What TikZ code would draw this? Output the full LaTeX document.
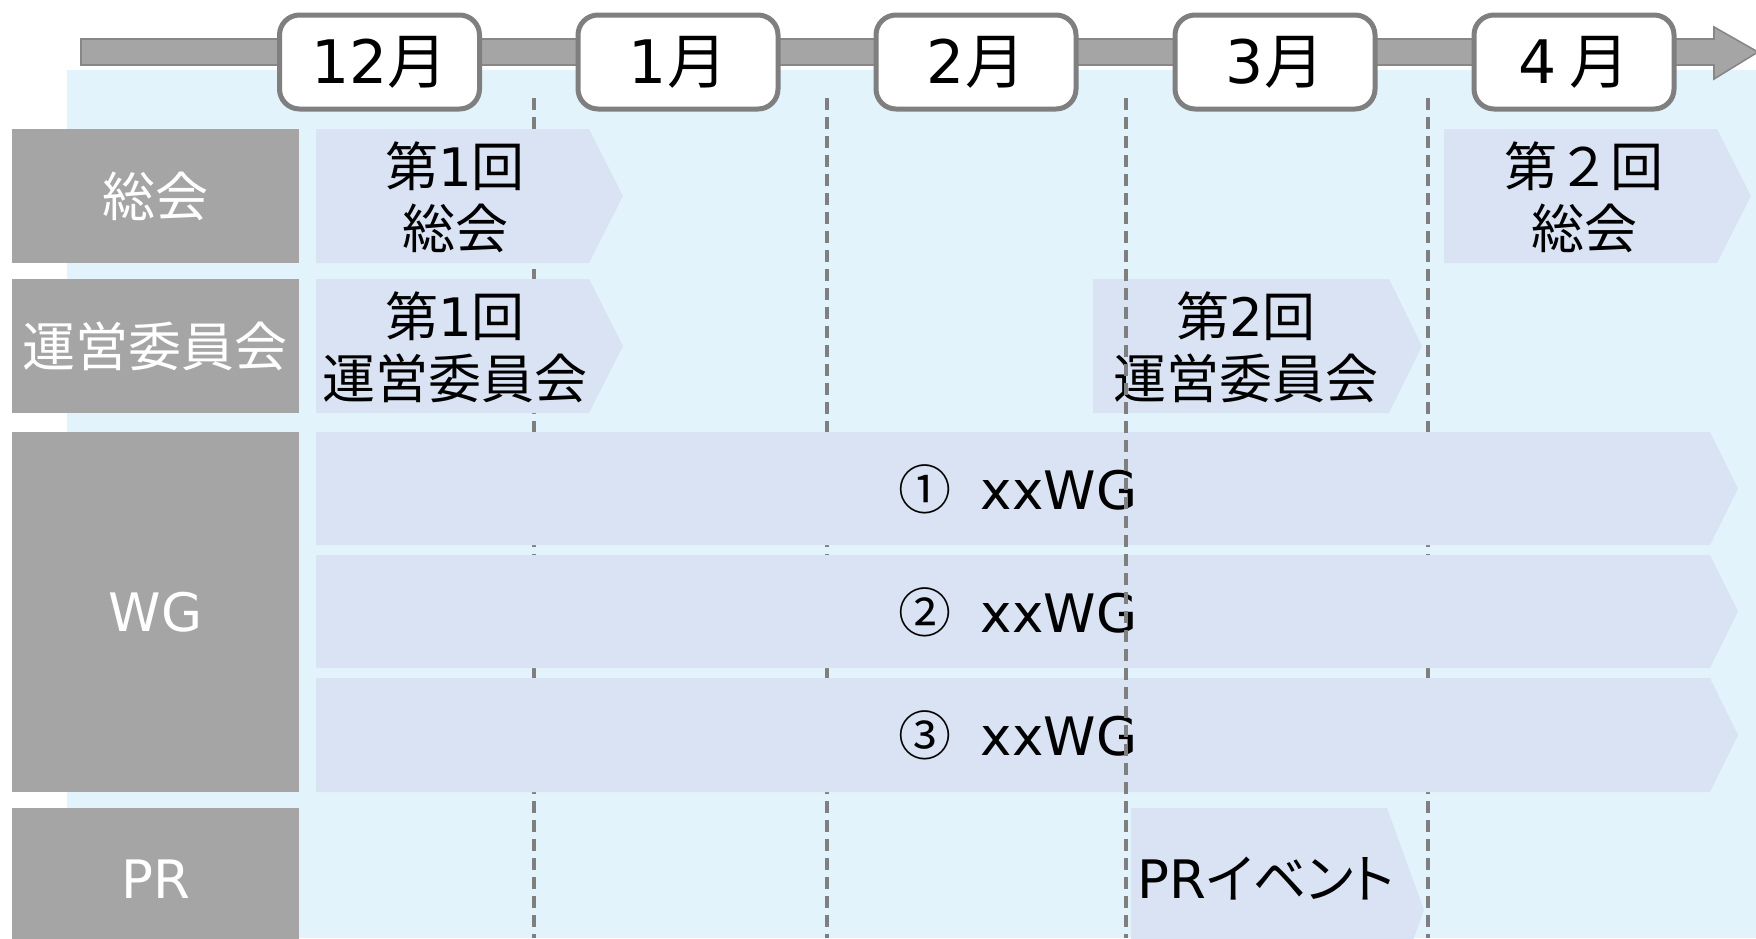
\documentclass[tikz,border=0pt]{standalone}
\usepackage{fontspec}
\setmainfont{DejaVu Sans}
\newfontfamily\jp{Noto Sans CJK JP}
\newfontfamily\jpp[RawFeature=+palt]{Noto Sans CJK JP}
\definecolor{lblgray}{RGB}{165,165,165}
\definecolor{barblue}{RGB}{218,227,243}
\definecolor{bgblue}{RGB}{227,243,251}
\definecolor{boxgray}{RGB}{127,127,127}
\definecolor{axisgray}{RGB}{135,135,135}
\newcommand\chevbar[5]{%
  \fill[barblue] (#1,#4) -- (#2,#4) -- (#3,{(#4+#5)/2}) -- (#2,#5) -- (#1,#5) -- cycle;}
\begin{document}
\begin{tikzpicture}[x=0.5pt,y=-0.5pt,
  rowlabel/.style={fill=lblgray, text=white, inner sep=0pt, minimum width=143.5pt,
    font=\fontsize{26.5}{31}\selectfont},
  monthbox/.style={draw=boxgray, line width=2.5pt, fill=white, rounded corners=10pt,
    minimum width=100pt, minimum height=47pt, inner sep=0pt, font=\fontsize{30}{34}\selectfont},
  bartext/.style={align=center, inner sep=0pt, font=\fontsize{26.5}{31}\selectfont},
  gridline/.style={draw=boxgray, line width=1.7pt, dash pattern=on 6pt off 3.5pt}
]
\useasboundingbox (0,0) rectangle (1756,938);
\clip (0,0) rectangle (1756,938);
% background
\fill[bgblue] (67,70) rectangle (1756,938);
% grid lines behind bars
\foreach \gx/\gn in {534/a,827/b,1428/d}{
  \coordinate (gt\gn) at (\gx,98);
  \coordinate (gb\gn) at (\gx,938);
  \draw[gridline] (gt\gn) -- (gb\gn);
}
% timeline arrow
\filldraw[fill=lblgray, draw=axisgray, line width=0.8pt]
  (81,39) -- (1714,39) -- (1714,27) -- (1758,52) -- (1714,79) -- (1714,65) -- (81,65) -- cycle;
% month boxes
\node[monthbox] (m12) at (379.5,62) {\raisebox{-2pt}{12{\jp 月}}};
\node[monthbox] (m1) at (678,62) {\raisebox{-2pt}{1{\jp 月}}};
\node[monthbox] (m2) at (976,62) {\raisebox{-2pt}{2{\jp 月}}};
\node[monthbox] (m3) at (1275,62) {\raisebox{-2pt}{3{\jp 月}}};
\node[monthbox] (m4) at (1574,62) {\raisebox{-2pt}{4\hspace{0.2em}{\jp 月}}};
% row labels
\node[rowlabel, minimum height=67pt] (lsokai) at (155.5,196) {\jp 総会};
\node[rowlabel, minimum height=67pt] (lunei) at (155.5,346) {\jp 運営委員会};
\node[rowlabel, minimum height=180pt] (lwg) at (155.5,612) {WG};
\node[rowlabel, minimum height=71pt] (lpr) at (155.5,879) {PR};
% bars
\chevbar{316}{589}{623}{129}{263}
\chevbar{1444}{1717}{1751}{129}{263}
\chevbar{316}{589}{623}{279}{413}
\chevbar{1093}{1389}{1422}{279}{413}
\chevbar{316}{1710}{1738}{432}{545}
\chevbar{316}{1710}{1738}{555}{668}
\chevbar{316}{1710}{1738}{678}{792}
\chevbar{1131}{1387}{1424}{808}{1012}
% bar texts
\node[bartext] (s1) at (455,197) {{\jp 第}1{\jp 回}\\{\jp 総会}};
\node[bartext] (s2) at (1584,197) {{\jp 第２回}\\{\jp 総会}};
\node[bartext] (u1) at (455,347) {{\jp 第}1{\jp 回}\\{\jp 運営委員会}};
\node[bartext] (u2) at (1246,347) {{\jp 第}2{\jp 回}\\{\jp 運営委員会}};
\node[bartext] (w1) at (1018,489) {{\jp ①}\hspace{0.55em}xxWG};
\node[bartext] (w2) at (1018,612) {{\jp ②}\hspace{0.55em}xxWG};
\node[bartext] (w3) at (1018,735) {{\jp ③}\hspace{0.55em}xxWG};
\node[bartext] (pr) at (1266,879) {PR{\jpp イベント}};
% grid line on top
\coordinate (gtc) at (1126,98);
\coordinate (gbc) at (1126,938);
\draw[gridline] (gtc) -- (gbc);
\end{tikzpicture}
\end{document}
